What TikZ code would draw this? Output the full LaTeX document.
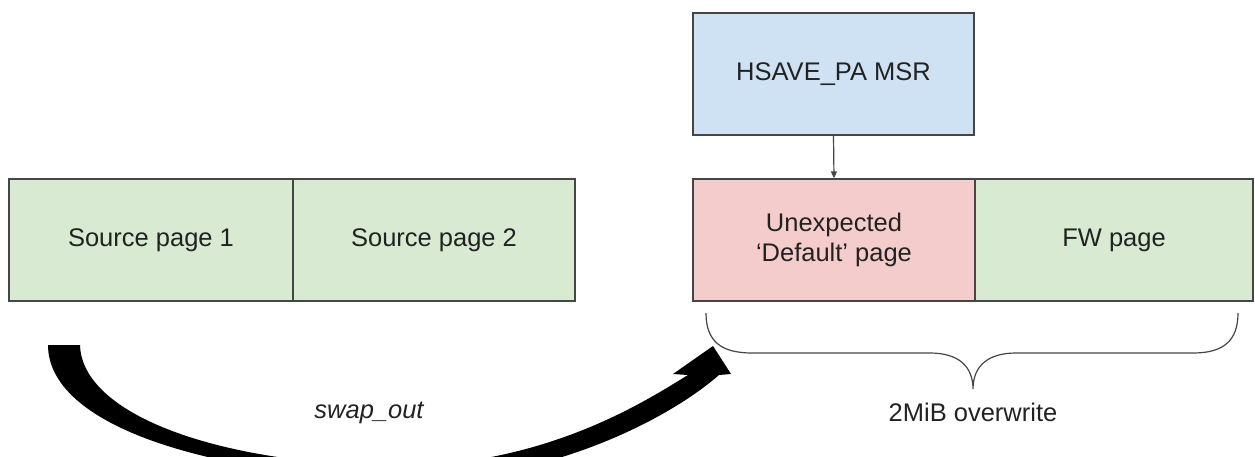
\documentclass[tikz,border=0pt]{standalone}
\usepackage{fontspec}
\setmainfont{Liberation Sans}
\usetikzlibrary{arrows.meta}
\definecolor{linec}{HTML}{454545}
\definecolor{greenf}{HTML}{D9EAD3}
\definecolor{pinkf}{HTML}{F4CCCC}
\definecolor{bluef}{HTML}{CFE2F3}
\definecolor{textc}{HTML}{222222}
\newcommand{\dfont}{\fontsize{25.5}{29.3}\selectfont}
\tikzset{
  box/.style={draw=linec, line width=1.3pt, minimum height=122pt, inner sep=0pt,
    font=\dfont, text=textc, align=center},
  lbl/.style={font=\dfont, text=textc, inner sep=0pt},
  conn/.style={draw=linec, line width=1.2pt, -{Triangle[length=7pt,width=6pt]}},
  bracec/.style={draw=linec, line width=1.2pt},
}
\begin{document}
\begin{tikzpicture}[x=1pt,y=-1pt]
\useasboundingbox (0,0) rectangle (1255,456);
\clip (0,0) rectangle (1255,456);
% boxes
\node[box, fill=greenf, minimum width=284pt] (s1) at (151,240) {Source page 1};
\node[box, fill=greenf, minimum width=282pt] (s2) at (434,240) {Source page 2};
\node[box, fill=bluef, minimum width=281pt] (hs) at (833.5,74) {HSAVE\_PA MSR};
\node[box, fill=pinkf, minimum width=282pt] (ue) at (834,240) {Unexpected\\‘Default’ page};
\node[box, fill=greenf, minimum width=278pt] (fw) at (1114,240) {FW page};
\draw[conn] (hs.south) -- (ue.north);
% brace
\coordinate (bl) at (706,313);
\coordinate (bt) at (973,389);
\coordinate (br) at (1238,313);
\draw[bracec] (bl) .. controls (706,342) and (722,353) .. (752,353)
  -- (930,353) .. controls (958,353) and (973,366) .. (bt)
  .. controls (973,366) and (988,353) .. (1016,353)
  -- (1193,353) .. controls (1222,353) and (1238,342) .. (br);
\node[lbl] (ow) at (973,412) {2MiB overwrite};
% big curved arrow
\coordinate (tailL) at (48,345);
\coordinate (tailR) at (80,345);
\coordinate (tip) at (713,346);
\fill[black] (tailL) -- (tailR)
  .. controls (82,415) and (220,465) .. (400,466)
  .. controls (550,465) and (650,398) .. (688,375)
  -- (673,374) -- (tip) -- (731,374) -- (719,375)
  .. controls (670,418) and (550,482) .. (400,482)
  .. controls (170,470) and (48,415) .. (tailL) -- cycle;
\node[lbl, font=\dfont\itshape] (sw) at (369,413) {swap\_out};
\end{tikzpicture}
\end{document}
